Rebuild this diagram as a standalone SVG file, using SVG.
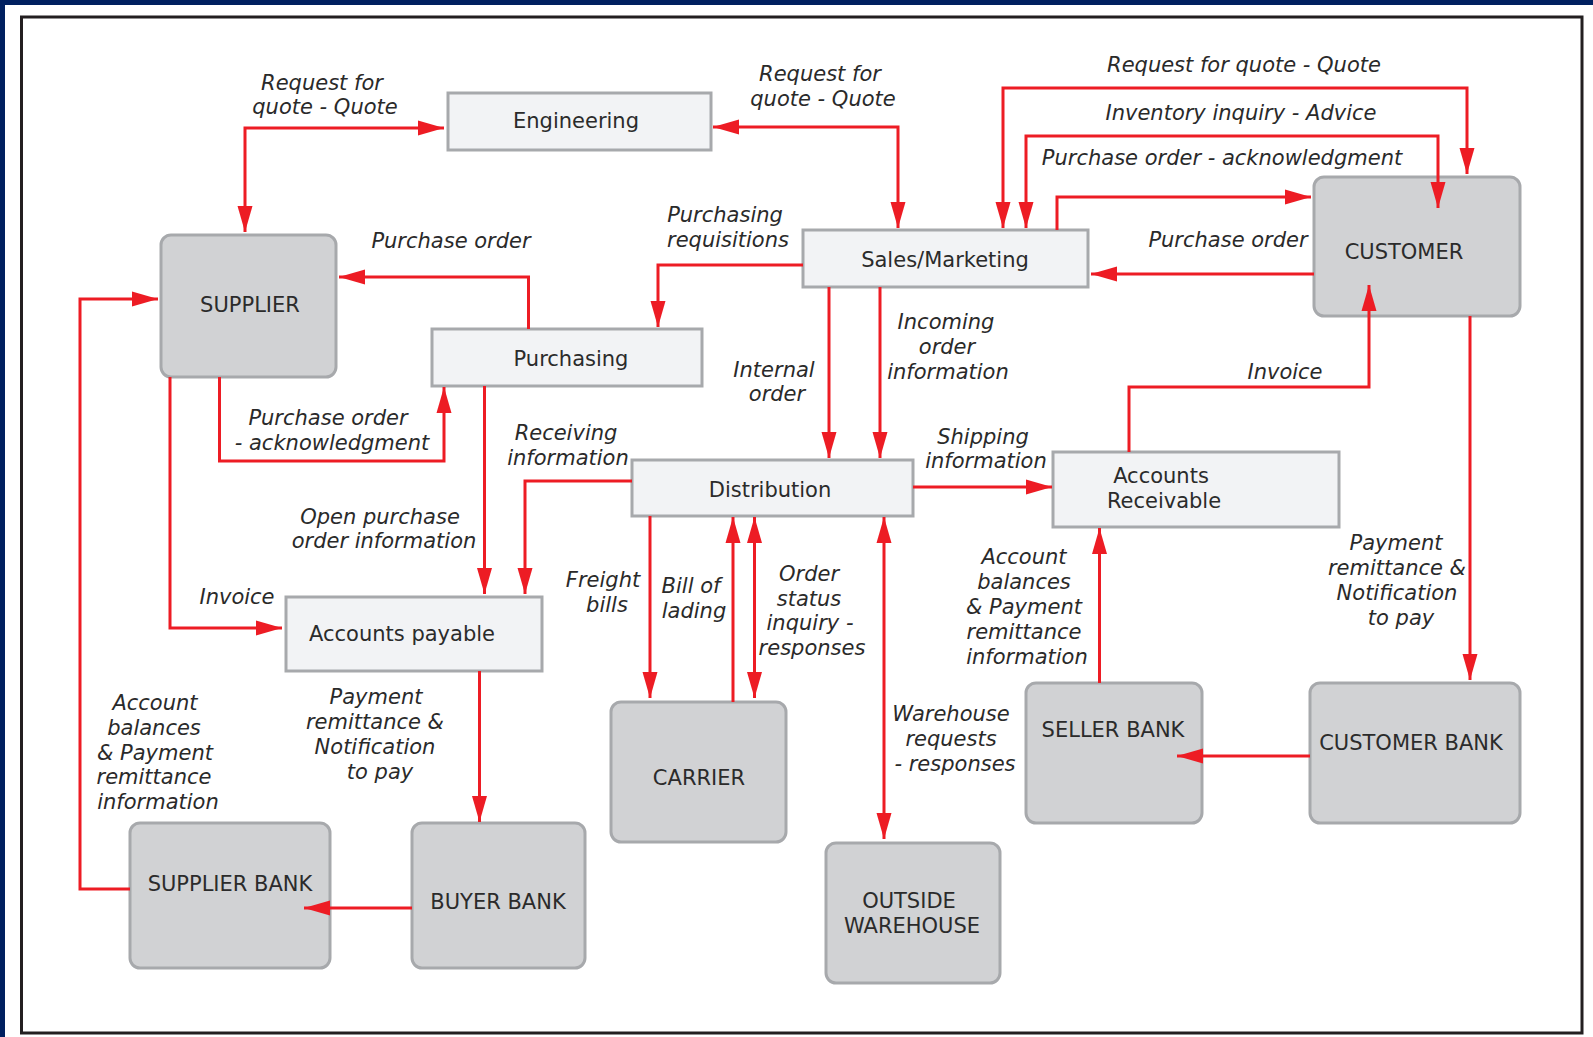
<svg xmlns="http://www.w3.org/2000/svg" width="1593" height="1037" viewBox="0 0 1593 1037">
<defs>
<marker id="arr" markerUnits="userSpaceOnUse" markerWidth="26" markerHeight="16" refX="26" refY="7.5" orient="auto-start-reverse" viewBox="0 0 26 15">
<path d="M0,0 L26,7.5 L0,15 Z" fill="#ed1c24"/>
</marker>
</defs>
<style>
.box{fill:#f2f3f5;stroke:#a7a9ac;stroke-width:3}
.ext{fill:#d1d2d4;stroke:#a7a9ac;stroke-width:3}
.nt{font-family:"DejaVu Sans",Verdana,sans-serif;font-size:21px;fill:#2b2b2b;text-anchor:middle}
.lb{font-family:"DejaVu Sans",Verdana,sans-serif;font-size:21px;font-style:italic;fill:#2a2a2a;text-anchor:middle}
.c{fill:none;stroke:#ed1c24;stroke-width:3;marker-end:url(#arr)}
.c2{marker-start:url(#arr)}
</style>
<rect x="0" y="0" width="1593" height="1037" fill="#ffffff"/>
<rect x="0" y="0" width="1593" height="5" fill="#002060"/>
<rect x="0" y="0" width="5" height="1037" fill="#002060"/>
<rect x="21.5" y="17" width="1560.5" height="1016" fill="#ffffff" stroke="#231f20" stroke-width="3"/>

<g id="engineering"><rect class="box" x="448" y="93" width="263" height="57"/><text class="nt" x="576" y="128">Engineering</text></g>
<g id="sales"><rect class="box" x="803" y="230" width="285" height="57"/><text class="nt" x="945" y="267">Sales/Marketing</text></g>
<g id="purchasing"><rect class="box" x="432" y="329" width="270" height="57"/><text class="nt" x="571" y="366">Purchasing</text></g>
<g id="distribution"><rect class="box" x="632" y="460" width="281" height="56"/><text class="nt" x="770" y="497">Distribution</text></g>
<g id="ar"><rect class="box" x="1053" y="452" width="286" height="75"/><text class="nt" x="1161" y="483">Accounts</text><text class="nt" x="1164" y="508">Receivable</text></g>
<g id="ap"><rect class="box" x="286" y="597" width="256" height="74"/><text class="nt" x="402" y="641">Accounts payable</text></g>
<g id="supplier"><rect class="ext" x="161" y="235" width="175" height="142" rx="10"/><text class="nt" x="250" y="312">SUPPLIER</text></g>
<g id="customer"><rect class="ext" x="1314" y="177" width="206" height="139" rx="10"/><text class="nt" x="1404" y="259">CUSTOMER</text></g>
<g id="carrier"><rect class="ext" x="611" y="702" width="175" height="140" rx="10"/><text class="nt" x="699" y="785">CARRIER</text></g>
<g id="supplierbank"><rect class="ext" x="130" y="823" width="200" height="145" rx="10"/><text class="nt" x="230" y="891">SUPPLIER BANK</text></g>
<g id="buyerbank"><rect class="ext" x="412" y="823" width="173" height="145" rx="10"/><text class="nt" x="498" y="909">BUYER BANK</text></g>
<g id="outsidewarehouse"><rect class="ext" x="826" y="843" width="174" height="140" rx="10"/><text class="nt" x="909" y="908">OUTSIDE</text><text class="nt" x="912" y="933">WAREHOUSE</text></g>
<g id="sellerbank"><rect class="ext" x="1026" y="683" width="176" height="140" rx="10"/><text class="nt" x="1113" y="737">SELLER BANK</text></g>
<g id="customerbank"><rect class="ext" x="1310" y="683" width="210" height="140" rx="10"/><text class="nt" x="1411" y="750">CUSTOMER BANK</text></g>

<g id="connectors">
<path class="c c2" d="M245,232 V128 H444"/>
<path class="c c2" d="M713,127 H898 V228"/>
<path class="c c2" d="M1003,228 V88 H1467 V174"/>
<path class="c c2" d="M1026,228 V136 H1438 V208"/>
<path class="c" d="M1057,230 V197 H1311"/>
<path class="c" d="M1314,274 H1091"/>
<path class="c" d="M1129,452 V387 H1369 V285"/>
<path class="c" d="M1470,316 V680"/>
<path class="c" d="M1310,756 H1177"/>
<path class="c" d="M1099.5,683 V528"/>
<path class="c" d="M913,487 H1052"/>
<path class="c" d="M829,287 V458"/>
<path class="c" d="M880,287 V458"/>
<path class="c" d="M803,265 H658 V327"/>
<path class="c" d="M528.5,329 V277 H339"/>
<path class="c" d="M219.5,377 V461 H444 V387"/>
<path class="c" d="M170,377 V628 H282"/>
<path class="c" d="M484.5,386 V594"/>
<path class="c" d="M632,481 H525 V594"/>
<path class="c" d="M650,516 V698"/>
<path class="c" d="M733,702 V517"/>
<path class="c c2" d="M754.5,517 V698"/>
<path class="c c2" d="M884,517 V839"/>
<path class="c" d="M479.5,671 V822"/>
<path class="c" d="M412,908 H304"/>
<path class="c" d="M130,889 H80 V299 H158"/>
</g>

<g id="labels" transform="translate(0,1.5)">
<text class="lb" x="322" y="88">Request for</text>
<text class="lb" x="325" y="112">quote - Quote</text>
<text class="lb" x="820" y="79">Request for</text>
<text class="lb" x="823" y="104">quote - Quote</text>
<text class="lb" x="1244" y="70">Request for quote - Quote</text>
<text class="lb" x="1241" y="118">Inventory inquiry - Advice</text>
<text class="lb" x="1222" y="163">Purchase order - acknowledgment</text>
<text class="lb" x="1228" y="245">Purchase order</text>
<text class="lb" x="1285" y="377">Invoice</text>
<text class="lb" x="1396" y="548">Payment</text>
<text class="lb" x="1397" y="573">remittance &amp;</text>
<text class="lb" x="1397" y="598">Notification</text>
<text class="lb" x="1401" y="623">to pay</text>
<text class="lb" x="1024" y="562">Account</text>
<text class="lb" x="1024" y="587">balances</text>
<text class="lb" x="1024" y="612">&amp; Payment</text>
<text class="lb" x="1024" y="637">remittance</text>
<text class="lb" x="1027" y="662">information</text>
<text class="lb" x="983" y="442">Shipping</text>
<text class="lb" x="986" y="466">information</text>
<text class="lb" x="774" y="375">Internal</text>
<text class="lb" x="777" y="399">order</text>
<text class="lb" x="946" y="327">Incoming</text>
<text class="lb" x="947" y="352">order</text>
<text class="lb" x="948" y="377">information</text>
<text class="lb" x="725" y="220">Purchasing</text>
<text class="lb" x="728" y="245">requisitions</text>
<text class="lb" x="451" y="246">Purchase order</text>
<text class="lb" x="328" y="423">Purchase order</text>
<text class="lb" x="332" y="448">- acknowledgment</text>
<text class="lb" x="237" y="602">Invoice</text>
<text class="lb" x="380" y="522">Open purchase</text>
<text class="lb" x="384" y="546">order information</text>
<text class="lb" x="566" y="438">Receiving</text>
<text class="lb" x="568" y="463">information</text>
<text class="lb" x="603" y="585">Freight</text>
<text class="lb" x="607" y="610">bills</text>
<text class="lb" x="691" y="591">Bill of</text>
<text class="lb" x="694" y="616">lading</text>
<text class="lb" x="809" y="579">Order</text>
<text class="lb" x="809" y="604">status</text>
<text class="lb" x="810" y="628">inquiry -</text>
<text class="lb" x="812" y="653">responses</text>
<text class="lb" x="951" y="719">Warehouse</text>
<text class="lb" x="951" y="744">requests</text>
<text class="lb" x="955" y="769">- responses</text>
<text class="lb" x="376" y="702">Payment</text>
<text class="lb" x="375" y="727">remittance &amp;</text>
<text class="lb" x="375" y="752">Notification</text>
<text class="lb" x="380" y="777">to pay</text>
<text class="lb" x="155" y="708">Account</text>
<text class="lb" x="154" y="733">balances</text>
<text class="lb" x="155" y="758">&amp; Payment</text>
<text class="lb" x="154" y="782">remittance</text>
<text class="lb" x="158" y="807">information</text>
</g>
</svg>
